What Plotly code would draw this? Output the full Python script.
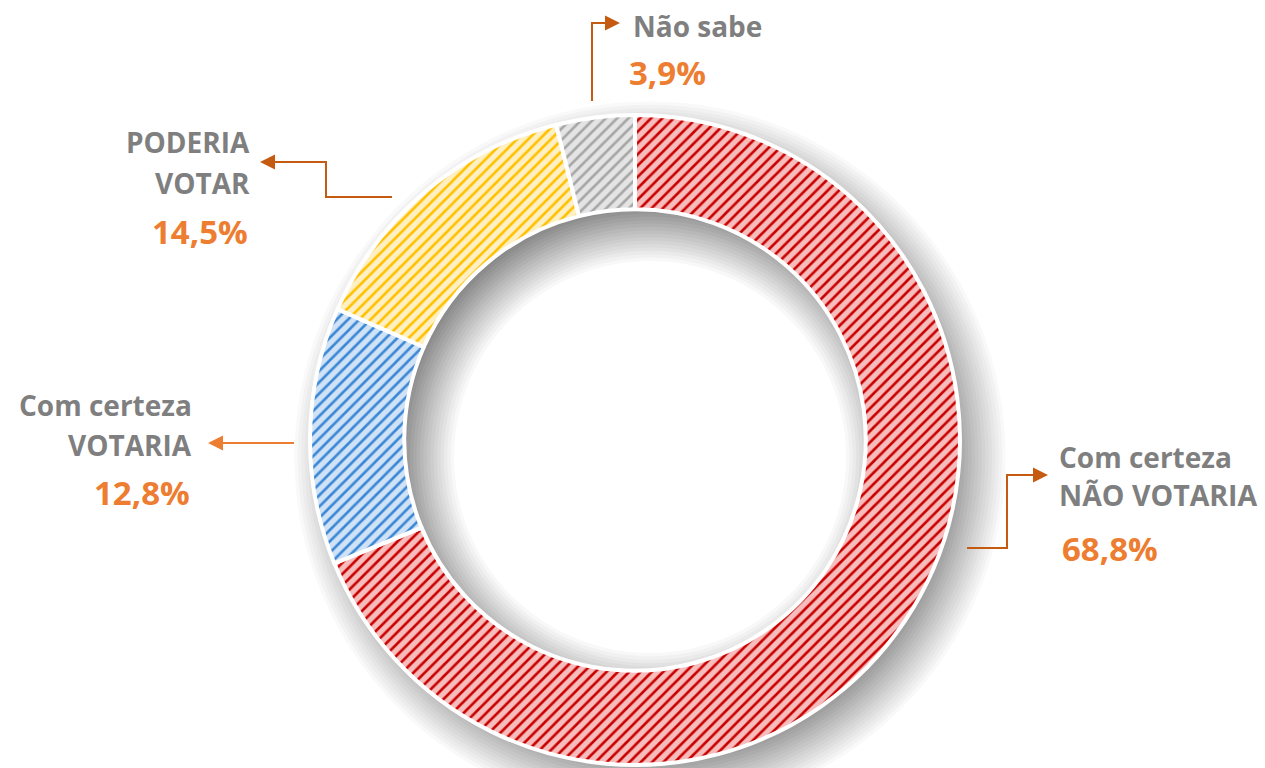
import plotly.graph_objects as go

W, H = 1265, 768

# ---- data ----
labels = ["Com certeza NÃO VOTARIA", "Com certeza VOTARIA", "PODERIA VOTAR", "Não sabe"]
values = [68.8, 12.8, 14.5, 3.9]
pct_text = ["68,8%", "12,8%", "14,5%", "3,9%"]
fg_colors = ["#c80000", "#3a87d6", "#ffc000", "#a6a6a6"]
bg_colors = ["#f7bcbc", "#d0e2f5", "#fff0c4", "#e4e4e4"]

GREY = "#7f7f7f"
ORANGE = "#ed7d31"
DARK_OR = "#c55a11"
FONT = "Open Sans"
LABEL_SIZE = 28
PCT_SIZE = 33


def px(x):
    return x / W


def py(y):
    return 1 - y / H


cx, cy, R, r_in = 635, 440, 325, 230

fig = go.Figure()
fig.add_trace(go.Pie(
    labels=labels, values=values, sort=False, direction="clockwise", rotation=0,
    hole=0.71, textinfo="none", showlegend=False, hoverinfo="label+percent",
    marker=dict(
        colors=bg_colors,
        line=dict(color="white", width=4),
        pattern=dict(shape="/", fgcolor=fg_colors, bgcolor=bg_colors,
                     size=8, solidity=0.33, fillmode="replace"),
    ),
    domain=dict(x=[px(cx - R), px(cx + R)], y=[py(cy + R), py(cy - R)]),
))

shapes = []


def circle(x, y, rad, fill):
    shapes.append(dict(type="circle", xref="paper", yref="paper", layer="below",
                       x0=px(x - rad), x1=px(x + rad), y0=py(y + rad), y1=py(y - rad),
                       fillcolor=fill, line=dict(width=0)))


def grey(level):
    v = int(round(level))
    return f"rgb({v},{v},{v})"


# soft drop shadow of the ring, offset down-right
SX, SY, SIG = 15, 17, 17
DARK_OUT, DARK_IN = 128, 112
N = 20
# outer part: white far out -> dark under the ring edge
for k in range(N + 1):
    t = k / N
    rad = R + 2 * SIG - t * 4 * SIG
    circle(cx + SX, cy + SY, rad, grey(255 - (255 - DARK_OUT) * t))
# inner part (seen through the hole): dark at the shifted hole edge -> white inside
for k in range(N + 1):
    t = k / N
    rad = r_in + 2 * SIG - t * 4 * SIG
    circle(cx + SX, cy + SY, rad, grey(DARK_IN + (255 - DARK_IN) * t))


def path(points, color, width=2, fill=None):
    d = "M " + " L ".join(f"{px(x)},{py(y)}" for x, y in points)
    if fill:
        d += " Z"
    shapes.append(dict(type="path", xref="paper", yref="paper", path=d,
                       line=dict(color=color, width=0 if fill else width),
                       fillcolor=fill if fill else "rgba(0,0,0,0)"))


def arrow_head(tx, ty, direction, color):
    L, h = 15, 7.5
    if direction == "right":
        pts = [(tx - L, ty - h), (tx, ty), (tx - L, ty + h)]
    else:
        pts = [(tx + L, ty - h), (tx, ty), (tx + L, ty + h)]
    path(pts, color, fill=color)


# connectors
path([(592, 101), (592, 23), (606, 23)], DARK_OR)
arrow_head(620, 23, "right", DARK_OR)

path([(392, 197), (326, 197), (326, 162), (274, 162)], DARK_OR)
arrow_head(260, 162, "left", DARK_OR)

path([(294, 443), (222, 443)], ORANGE)
arrow_head(208, 443, "left", ORANGE)

path([(967, 548), (1007, 548), (1007, 475), (1034, 475)], DARK_OR)
arrow_head(1048, 475, "right", DARK_OR)

annotations = []


def text(x, y, s, color, anchor, size):
    annotations.append(dict(x=px(x), y=py(y), xref="paper", yref="paper", text=s,
                            showarrow=False, xanchor=anchor, yanchor="middle",
                            font=dict(family=FONT, size=size, color=color, weight="bold")))


# Não sabe
text(631, 26, "Não sabe", GREY, "left", LABEL_SIZE)
text(627, 72, pct_text[3], ORANGE, "left", PCT_SIZE)
# PODERIA VOTAR
text(252, 142, "PODERIA", GREY, "right", LABEL_SIZE)
text(252, 183, "VOTAR", GREY, "right", LABEL_SIZE)
text(250, 231, pct_text[2], ORANGE, "right", PCT_SIZE)
# Com certeza VOTARIA
text(194, 405, "Com certeza", GREY, "right", LABEL_SIZE)
text(194, 445, "VOTARIA", GREY, "right", LABEL_SIZE)
text(192, 492, pct_text[1], ORANGE, "right", PCT_SIZE)
# Com certeza NÃO VOTARIA
text(1057, 457, "Com certeza", GREY, "left", LABEL_SIZE)
text(1057, 495, "NÃO VOTARIA", GREY, "left", 28.5)
text(1060, 548, pct_text[0], ORANGE, "left", PCT_SIZE)

fig.update_layout(
    width=W, height=H, margin=dict(l=0, r=0, t=0, b=0),
    paper_bgcolor="white", plot_bgcolor="white",
    shapes=shapes, annotations=annotations,
)

fig.write_html("out.html", config={"displayModeBar": False},
               post_script="document.body.style.margin='0px';document.body.style.overflow='hidden';")
